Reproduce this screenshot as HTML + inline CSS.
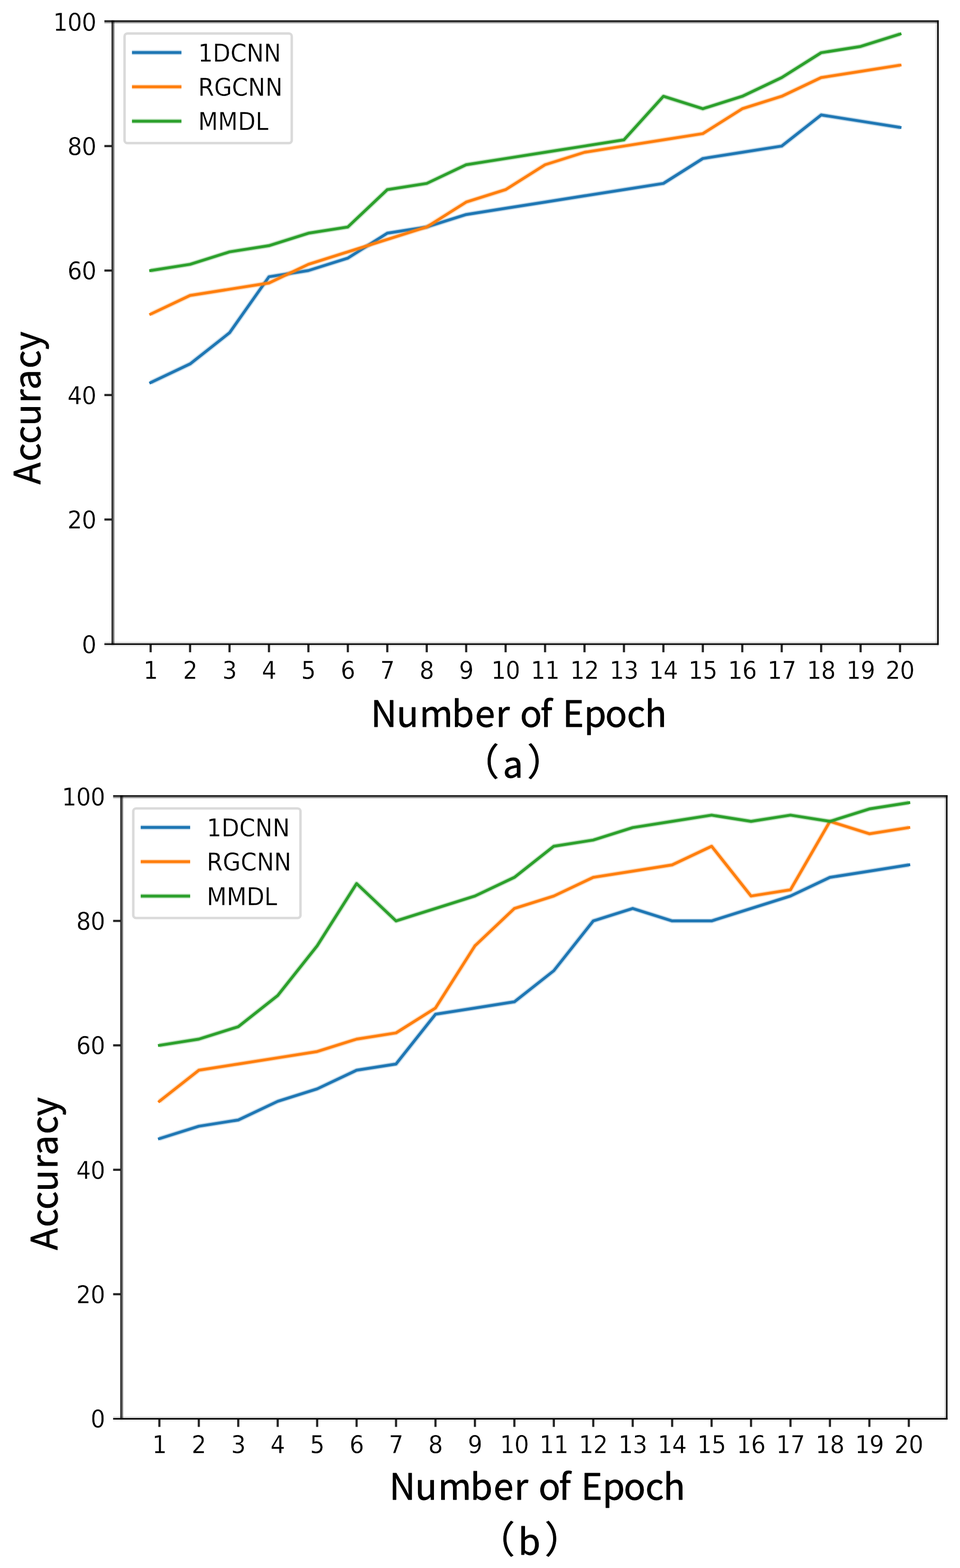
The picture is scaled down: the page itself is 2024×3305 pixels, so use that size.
<!DOCTYPE html>
<html lang="en">
<head>
<meta charset="utf-8">
<title>Accuracy vs Number of Epoch</title>
<style>
html,body{margin:0;padding:0;background:#fff;}
body{width:2024px;height:3305px;}
svg{display:block;}
.tk{font-family:"DejaVu Sans","Liberation Sans",sans-serif;font-size:50.9px;fill:#000;stroke:#fff;stroke-width:0.4px;letter-spacing:-0.7px;}
.lg{letter-spacing:0;}
.lb{font-family:"Noto Sans CJK SC","Liberation Sans",sans-serif;fill:#000;stroke:#000;stroke-width:0.9px;stroke-linejoin:round;}
</style>
</head>
<body>
<svg width="2024" height="3305" viewBox="0 0 2024 3305">
<defs><filter id="soft" x="0" y="0" width="2024" height="3305" filterUnits="userSpaceOnUse" color-interpolation-filters="sRGB"><feGaussianBlur stdDeviation="0.6"/></filter></defs>
<rect width="2024" height="3305" fill="#fff"/>
<g class="chart" filter="url(#soft)">
<g fill="none" stroke-linejoin="round">
<polyline stroke="#1f77b4" stroke-opacity="0.25" stroke-width="10.4" stroke-linecap="butt" points="317.6,806.4 400.76,767.05 483.92,701.45 567.07,583.38 650.23,570.26 733.39,544.02 816.55,491.55 899.71,478.43 982.86,452.19 1066.02,439.07 1149.18,425.95 1232.34,412.83 1315.49,399.71 1398.65,386.59 1481.81,334.12 1564.97,321 1648.13,307.88 1731.28,242.29 1814.44,255.4 1897.6,268.52"/>
<polyline stroke="#1f77b4" stroke-width="6" stroke-linecap="square" points="317.6,806.4 400.76,767.05 483.92,701.45 567.07,583.38 650.23,570.26 733.39,544.02 816.55,491.55 899.71,478.43 982.86,452.19 1066.02,439.07 1149.18,425.95 1232.34,412.83 1315.49,399.71 1398.65,386.59 1481.81,334.12 1564.97,321 1648.13,307.88 1731.28,242.29 1814.44,255.4 1897.6,268.52"/>
<polyline stroke="#ff7f0e" stroke-opacity="0.25" stroke-width="10.4" stroke-linecap="butt" points="317.6,662.09 400.76,622.74 483.92,609.62 567.07,596.5 650.23,557.14 733.39,530.9 816.55,504.66 899.71,478.43 982.86,425.95 1066.02,399.71 1149.18,347.24 1232.34,321 1315.49,307.88 1398.65,294.76 1481.81,281.64 1564.97,229.17 1648.13,202.93 1731.28,163.57 1814.44,150.45 1897.6,137.33"/>
<polyline stroke="#ff7f0e" stroke-width="6" stroke-linecap="square" points="317.6,662.09 400.76,622.74 483.92,609.62 567.07,596.5 650.23,557.14 733.39,530.9 816.55,504.66 899.71,478.43 982.86,425.95 1066.02,399.71 1149.18,347.24 1232.34,321 1315.49,307.88 1398.65,294.76 1481.81,281.64 1564.97,229.17 1648.13,202.93 1731.28,163.57 1814.44,150.45 1897.6,137.33"/>
<polyline stroke="#2ca02c" stroke-opacity="0.25" stroke-width="10.4" stroke-linecap="butt" points="317.6,570.26 400.76,557.14 483.92,530.9 567.07,517.78 650.23,491.55 733.39,478.43 816.55,399.71 899.71,386.59 982.86,347.24 1066.02,334.12 1149.18,321 1232.34,307.88 1315.49,294.76 1398.65,202.93 1481.81,229.17 1564.97,202.93 1648.13,163.57 1731.28,111.1 1814.44,97.98 1897.6,71.74"/>
<polyline stroke="#2ca02c" stroke-width="6" stroke-linecap="square" points="317.6,570.26 400.76,557.14 483.92,530.9 567.07,517.78 650.23,491.55 733.39,478.43 816.55,399.71 899.71,386.59 982.86,347.24 1066.02,334.12 1149.18,321 1232.34,307.88 1315.49,294.76 1398.65,202.93 1481.81,229.17 1564.97,202.93 1648.13,163.57 1731.28,111.1 1814.44,97.98 1897.6,71.74"/>
</g>
<g fill="#000" fill-opacity="0.85">
<rect x="315.3" y="1358.9" width="4.6" height="15.9"/>
<rect x="398.46" y="1358.9" width="4.6" height="15.9"/>
<rect x="481.62" y="1358.9" width="4.6" height="15.9"/>
<rect x="564.77" y="1358.9" width="4.6" height="15.9"/>
<rect x="647.93" y="1358.9" width="4.6" height="15.9"/>
<rect x="731.09" y="1358.9" width="4.6" height="15.9"/>
<rect x="814.25" y="1358.9" width="4.6" height="15.9"/>
<rect x="897.41" y="1358.9" width="4.6" height="15.9"/>
<rect x="980.56" y="1358.9" width="4.6" height="15.9"/>
<rect x="1063.72" y="1358.9" width="4.6" height="15.9"/>
<rect x="1146.88" y="1358.9" width="4.6" height="15.9"/>
<rect x="1230.04" y="1358.9" width="4.6" height="15.9"/>
<rect x="1313.19" y="1358.9" width="4.6" height="15.9"/>
<rect x="1396.35" y="1358.9" width="4.6" height="15.9"/>
<rect x="1479.51" y="1358.9" width="4.6" height="15.9"/>
<rect x="1562.67" y="1358.9" width="4.6" height="15.9"/>
<rect x="1645.83" y="1358.9" width="4.6" height="15.9"/>
<rect x="1728.98" y="1358.9" width="4.6" height="15.9"/>
<rect x="1812.14" y="1358.9" width="4.6" height="15.9"/>
<rect x="1895.3" y="1358.9" width="4.6" height="15.9"/>
<rect x="220.1" y="1092.72" width="15.5" height="4.6"/>
<rect x="220.1" y="830.34" width="15.5" height="4.6"/>
<rect x="220.1" y="567.96" width="15.5" height="4.6"/>
<rect x="220.1" y="305.58" width="15.5" height="4.6"/>
</g>
<g fill="#000">
<rect x="220.1" y="42.8" width="1759" height="3.3" fill-opacity="0.92"/>
<rect x="220.1" y="46.1" width="1759" height="3" fill-opacity="0.42"/>
<rect x="220.1" y="1353" width="1759" height="3.2" fill-opacity="0.15"/>
<rect x="220.1" y="1356.2" width="1759" height="3.1" fill-opacity="1"/>
<rect x="220.1" y="1359.3" width="1759" height="3.3" fill-opacity="0.08"/>
<rect x="235.1" y="42.8" width="3.3" height="1316.5" fill-opacity="0.83"/>
<rect x="238.4" y="42.8" width="2.8" height="1316.5" fill-opacity="0.53"/>
<rect x="1972.8" y="42.8" width="3.2" height="1316.5" fill-opacity="0.15"/>
<rect x="1976" y="42.8" width="3.1" height="1316.5" fill-opacity="1"/>
<rect x="1979.1" y="42.8" width="2.8" height="1316.5" fill-opacity="0.07"/>
</g>
<g class="tk" text-anchor="middle">
<text transform="translate(317.6 1430.5) scale(0.955 1)">1</text>
<text transform="translate(400.76 1430.5) scale(0.955 1)">2</text>
<text transform="translate(483.92 1430.5) scale(0.955 1)">3</text>
<text transform="translate(567.07 1430.5) scale(0.955 1)">4</text>
<text transform="translate(650.23 1430.5) scale(0.955 1)">5</text>
<text transform="translate(733.39 1430.5) scale(0.955 1)">6</text>
<text transform="translate(816.55 1430.5) scale(0.955 1)">7</text>
<text transform="translate(899.71 1430.5) scale(0.955 1)">8</text>
<text transform="translate(982.86 1430.5) scale(0.955 1)">9</text>
<text transform="translate(1066.02 1430.5) scale(0.955 1)">10</text>
<text transform="translate(1149.18 1430.5) scale(0.955 1)">11</text>
<text transform="translate(1232.34 1430.5) scale(0.955 1)">12</text>
<text transform="translate(1315.49 1430.5) scale(0.955 1)">13</text>
<text transform="translate(1398.65 1430.5) scale(0.955 1)">14</text>
<text transform="translate(1481.81 1430.5) scale(0.955 1)">15</text>
<text transform="translate(1564.97 1430.5) scale(0.955 1)">16</text>
<text transform="translate(1648.13 1430.5) scale(0.955 1)">17</text>
<text transform="translate(1731.28 1430.5) scale(0.955 1)">18</text>
<text transform="translate(1814.44 1430.5) scale(0.955 1)">19</text>
<text transform="translate(1897.6 1430.5) scale(0.955 1)">20</text>
</g>
<g class="tk" text-anchor="end">
<text transform="translate(202.8 1376.5) scale(0.955 1)">0</text>
<text transform="translate(202.8 1114.12) scale(0.955 1)">20</text>
<text transform="translate(202.8 851.74) scale(0.955 1)">40</text>
<text transform="translate(202.8 589.36) scale(0.955 1)">60</text>
<text transform="translate(202.8 326.98) scale(0.955 1)">80</text>
<text transform="translate(202.8 64.6) scale(0.955 1)">100</text>
</g>
<rect x="262.6" y="70.7" width="352.5" height="231" rx="6" ry="6" fill="#fff" fill-opacity="0.8" stroke="#dadada" stroke-width="5.2"/>
<path d="M278.3 110.7h104.2" stroke="#1f77b4" stroke-opacity="0.25" stroke-width="10.4" fill="none"/>
<path d="M281.3 110.7h98.2" stroke="#1f77b4" stroke-width="6" stroke-linecap="square" fill="none"/>
<text class="tk lg" transform="translate(417.7 129.5) scale(0.955 1)">1DCNN</text>
<path d="M278.3 183.05h104.2" stroke="#ff7f0e" stroke-opacity="0.25" stroke-width="10.4" fill="none"/>
<path d="M281.3 183.05h98.2" stroke="#ff7f0e" stroke-width="6" stroke-linecap="square" fill="none"/>
<text class="tk lg" transform="translate(417.7 201.85) scale(0.955 1)">RGCNN</text>
<path d="M278.3 255.4h104.2" stroke="#2ca02c" stroke-opacity="0.25" stroke-width="10.4" fill="none"/>
<path d="M281.3 255.4h98.2" stroke="#2ca02c" stroke-width="6" stroke-linecap="square" fill="none"/>
<text class="tk lg" transform="translate(417.7 274.2) scale(0.955 1)">MMDL</text>
</g>
<g class="chart" filter="url(#soft)">
<g fill="none" stroke-linejoin="round">
<polyline stroke="#1f77b4" stroke-opacity="0.25" stroke-width="10.4" stroke-linecap="butt" points="336,2400.07 419.17,2373.84 502.33,2360.73 585.49,2321.39 668.66,2295.16 751.82,2255.82 834.98,2242.7 918.14,2137.79 1001.31,2124.68 1084.47,2111.56 1167.63,2045.99 1250.79,1941.08 1333.96,1914.85 1417.12,1941.08 1500.28,1941.08 1583.44,1914.85 1666.61,1888.62 1749.77,1849.28 1832.93,1836.17 1916.1,1823.05"/>
<polyline stroke="#1f77b4" stroke-width="6" stroke-linecap="square" points="336,2400.07 419.17,2373.84 502.33,2360.73 585.49,2321.39 668.66,2295.16 751.82,2255.82 834.98,2242.7 918.14,2137.79 1001.31,2124.68 1084.47,2111.56 1167.63,2045.99 1250.79,1941.08 1333.96,1914.85 1417.12,1941.08 1500.28,1941.08 1583.44,1914.85 1666.61,1888.62 1749.77,1849.28 1832.93,1836.17 1916.1,1823.05"/>
<polyline stroke="#ff7f0e" stroke-opacity="0.25" stroke-width="10.4" stroke-linecap="butt" points="336,2321.39 419.17,2255.82 502.33,2242.7 585.49,2229.59 668.66,2216.47 751.82,2190.25 834.98,2177.13 918.14,2124.68 1001.31,1993.54 1084.47,1914.85 1167.63,1888.62 1250.79,1849.28 1333.96,1836.17 1417.12,1823.05 1500.28,1783.71 1583.44,1888.62 1666.61,1875.51 1749.77,1731.26 1832.93,1757.48 1916.1,1744.37"/>
<polyline stroke="#ff7f0e" stroke-width="6" stroke-linecap="square" points="336,2321.39 419.17,2255.82 502.33,2242.7 585.49,2229.59 668.66,2216.47 751.82,2190.25 834.98,2177.13 918.14,2124.68 1001.31,1993.54 1084.47,1914.85 1167.63,1888.62 1250.79,1849.28 1333.96,1836.17 1417.12,1823.05 1500.28,1783.71 1583.44,1888.62 1666.61,1875.51 1749.77,1731.26 1832.93,1757.48 1916.1,1744.37"/>
<polyline stroke="#2ca02c" stroke-opacity="0.25" stroke-width="10.4" stroke-linecap="butt" points="336,2203.36 419.17,2190.25 502.33,2164.02 585.49,2098.45 668.66,1993.54 751.82,1862.4 834.98,1941.08 918.14,1914.85 1001.31,1888.62 1084.47,1849.28 1167.63,1783.71 1250.79,1770.6 1333.96,1744.37 1417.12,1731.26 1500.28,1718.14 1583.44,1731.26 1666.61,1718.14 1749.77,1731.26 1832.93,1705.03 1916.1,1691.91"/>
<polyline stroke="#2ca02c" stroke-width="6" stroke-linecap="square" points="336,2203.36 419.17,2190.25 502.33,2164.02 585.49,2098.45 668.66,1993.54 751.82,1862.4 834.98,1941.08 918.14,1914.85 1001.31,1888.62 1084.47,1849.28 1167.63,1783.71 1250.79,1770.6 1333.96,1744.37 1417.12,1731.26 1500.28,1718.14 1583.44,1731.26 1666.61,1718.14 1749.77,1731.26 1832.93,1705.03 1916.1,1691.91"/>
</g>
<g fill="#000" fill-opacity="0.85">
<rect x="333.7" y="2991.7" width="4.6" height="15.9"/>
<rect x="416.87" y="2991.7" width="4.6" height="15.9"/>
<rect x="500.03" y="2991.7" width="4.6" height="15.9"/>
<rect x="583.19" y="2991.7" width="4.6" height="15.9"/>
<rect x="666.36" y="2991.7" width="4.6" height="15.9"/>
<rect x="749.52" y="2991.7" width="4.6" height="15.9"/>
<rect x="832.68" y="2991.7" width="4.6" height="15.9"/>
<rect x="915.84" y="2991.7" width="4.6" height="15.9"/>
<rect x="999.01" y="2991.7" width="4.6" height="15.9"/>
<rect x="1082.17" y="2991.7" width="4.6" height="15.9"/>
<rect x="1165.33" y="2991.7" width="4.6" height="15.9"/>
<rect x="1248.49" y="2991.7" width="4.6" height="15.9"/>
<rect x="1331.66" y="2991.7" width="4.6" height="15.9"/>
<rect x="1414.82" y="2991.7" width="4.6" height="15.9"/>
<rect x="1497.98" y="2991.7" width="4.6" height="15.9"/>
<rect x="1581.14" y="2991.7" width="4.6" height="15.9"/>
<rect x="1664.31" y="2991.7" width="4.6" height="15.9"/>
<rect x="1747.47" y="2991.7" width="4.6" height="15.9"/>
<rect x="1830.63" y="2991.7" width="4.6" height="15.9"/>
<rect x="1913.8" y="2991.7" width="4.6" height="15.9"/>
<rect x="238.5" y="2725.62" width="15.5" height="4.6"/>
<rect x="238.5" y="2463.34" width="15.5" height="4.6"/>
<rect x="238.5" y="2201.06" width="15.5" height="4.6"/>
<rect x="238.5" y="1938.78" width="15.5" height="4.6"/>
</g>
<g fill="#000">
<rect x="238.5" y="1676.1" width="1759.1" height="3.3" fill-opacity="0.92"/>
<rect x="238.5" y="1679.4" width="1759.1" height="3" fill-opacity="0.42"/>
<rect x="238.5" y="2985.8" width="1759.1" height="3.2" fill-opacity="0.15"/>
<rect x="238.5" y="2989" width="1759.1" height="3.1" fill-opacity="1"/>
<rect x="238.5" y="2992.1" width="1759.1" height="3.3" fill-opacity="0.08"/>
<rect x="253.5" y="1676.1" width="3.3" height="1316" fill-opacity="0.83"/>
<rect x="256.8" y="1676.1" width="2.8" height="1316" fill-opacity="0.53"/>
<rect x="1991.3" y="1676.1" width="3.2" height="1316" fill-opacity="0.15"/>
<rect x="1994.5" y="1676.1" width="3.1" height="1316" fill-opacity="1"/>
<rect x="1997.6" y="1676.1" width="2.8" height="1316" fill-opacity="0.07"/>
</g>
<g class="tk" text-anchor="middle">
<text transform="translate(336 3063.3) scale(0.955 1)">1</text>
<text transform="translate(419.17 3063.3) scale(0.955 1)">2</text>
<text transform="translate(502.33 3063.3) scale(0.955 1)">3</text>
<text transform="translate(585.49 3063.3) scale(0.955 1)">4</text>
<text transform="translate(668.66 3063.3) scale(0.955 1)">5</text>
<text transform="translate(751.82 3063.3) scale(0.955 1)">6</text>
<text transform="translate(834.98 3063.3) scale(0.955 1)">7</text>
<text transform="translate(918.14 3063.3) scale(0.955 1)">8</text>
<text transform="translate(1001.31 3063.3) scale(0.955 1)">9</text>
<text transform="translate(1084.47 3063.3) scale(0.955 1)">10</text>
<text transform="translate(1167.63 3063.3) scale(0.955 1)">11</text>
<text transform="translate(1250.79 3063.3) scale(0.955 1)">12</text>
<text transform="translate(1333.96 3063.3) scale(0.955 1)">13</text>
<text transform="translate(1417.12 3063.3) scale(0.955 1)">14</text>
<text transform="translate(1500.28 3063.3) scale(0.955 1)">15</text>
<text transform="translate(1583.44 3063.3) scale(0.955 1)">16</text>
<text transform="translate(1666.61 3063.3) scale(0.955 1)">17</text>
<text transform="translate(1749.77 3063.3) scale(0.955 1)">18</text>
<text transform="translate(1832.93 3063.3) scale(0.955 1)">19</text>
<text transform="translate(1916.1 3063.3) scale(0.955 1)">20</text>
</g>
<g class="tk" text-anchor="end">
<text transform="translate(221.2 3009.3) scale(0.955 1)">0</text>
<text transform="translate(221.2 2747.02) scale(0.955 1)">20</text>
<text transform="translate(221.2 2484.74) scale(0.955 1)">40</text>
<text transform="translate(221.2 2222.46) scale(0.955 1)">60</text>
<text transform="translate(221.2 1960.18) scale(0.955 1)">80</text>
<text transform="translate(221.2 1697.9) scale(0.955 1)">100</text>
</g>
<rect x="281" y="1704" width="352.5" height="231" rx="6" ry="6" fill="#fff" fill-opacity="0.8" stroke="#dadada" stroke-width="5.2"/>
<path d="M296.7 1744h104.2" stroke="#1f77b4" stroke-opacity="0.25" stroke-width="10.4" fill="none"/>
<path d="M299.7 1744h98.2" stroke="#1f77b4" stroke-width="6" stroke-linecap="square" fill="none"/>
<text class="tk lg" transform="translate(436.1 1762.8) scale(0.955 1)">1DCNN</text>
<path d="M296.7 1816.35h104.2" stroke="#ff7f0e" stroke-opacity="0.25" stroke-width="10.4" fill="none"/>
<path d="M299.7 1816.35h98.2" stroke="#ff7f0e" stroke-width="6" stroke-linecap="square" fill="none"/>
<text class="tk lg" transform="translate(436.1 1835.15) scale(0.955 1)">RGCNN</text>
<path d="M296.7 1888.7h104.2" stroke="#2ca02c" stroke-opacity="0.25" stroke-width="10.4" fill="none"/>
<path d="M299.7 1888.7h98.2" stroke="#2ca02c" stroke-width="6" stroke-linecap="square" fill="none"/>
<text class="tk lg" transform="translate(436.1 1907.5) scale(0.955 1)">MMDL</text>
</g>
<text class="lb" font-size="76" transform="translate(84.9 0) rotate(-90)" y="0" x="-1020.9 -972.7 -935.8 -897.8 -850.1 -821.6 -776.7 -738.2">Accuracy</text>
<text class="lb" font-size="76" y="1531.6" x="781.7 836.2 884.4 952.6 1001.5 1045.2 1074.7 1096.4 1139.6 1164.3 1186.3 1231.3 1275.9 1321.7 1359.4">Number of Epoch</text>
<text class="lb"><tspan font-size="79" x="973.6" y="1635.4">（</tspan><tspan font-size="76" x="1060.2" y="1639">a</tspan><tspan font-size="79" x="1111.3" y="1635.4">）</tspan></text>
<text class="lb" font-size="76" transform="translate(120.9 0) rotate(-90)" y="0" x="-2634.9 -2586.7 -2549.8 -2511.8 -2464.1 -2435.6 -2390.7 -2352.2">Accuracy</text>
<text class="lb" font-size="76" y="3160.8" x="820.7 875.2 923.4 991.6 1040.5 1084.2 1113.7 1135.4 1178.6 1203.3 1225.3 1270.3 1314.9 1360.7 1398.4">Number of Epoch</text>
<text class="lb"><tspan font-size="79" x="1006.7" y="3273.6">（</tspan><tspan font-size="76" x="1092.4" y="3276.9">b</tspan><tspan font-size="79" x="1148.3" y="3273.6">）</tspan></text>
</svg>
</body>
</html>
